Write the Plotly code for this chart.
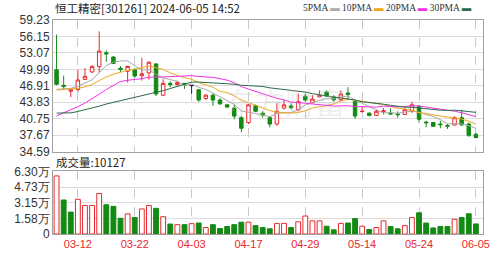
import plotly.graph_objects as go

dates = ["03-07","03-08","03-11","03-12","03-13","03-14","03-15","03-18","03-19","03-20",
         "03-21","03-22","03-25","03-26","03-27","03-28","03-29","04-01","04-02","04-03",
         "04-08","04-09","04-10","04-11","04-12","04-15","04-16","04-17","04-18","04-19",
         "04-22","04-23","04-24","04-25","04-26","04-29","04-30","05-06","05-07","05-08",
         "05-09","05-10","05-13","05-14","05-15","05-16","05-17","05-20","05-21","05-22",
         "05-23","05-24","05-27","05-28","05-29","05-30","05-31","06-03","06-04","06-05"]

open_ = [49.9,47.0,45.9,46.2,48.1,49.5,50.5,53.1,52.3,50.2,
         49.64,49.93,48.80,49.34,51.0,45.15,47.36,47.13,47.36,46.95,
         46.16,44.54,45.15,44.25,43.35,42.74,40.94,40.04,43.17,41.78,
         40.94,39.75,42.74,43.13,42.45,44.97,43.76,44.84,45.74,44.84,
         44.30,45.56,43.94,42.06,41.78,41.37,42.06,41.73,41.64,41.55,
         42.14,43.04,40.11,40.04,39.75,39.48,39.57,40.94,39.75,37.83]
high = [56.5,48.8,46.3,49.9,50.2,50.8,57.1,53.5,52.5,50.6,
        50.7,50.24,52.16,51.5,51.14,48.13,47.72,47.85,47.36,46.95,
        46.33,45.33,45.44,44.54,43.53,43.35,41.24,43.53,43.4,42.14,
        41.24,43.64,44.25,43.64,45.44,45.44,45.15,46.05,46.05,45.15,
        46.05,46.64,44.30,43.04,41.96,42.45,42.74,42.74,42.14,42.86,
        43.94,43.35,40.35,40.17,40.35,39.81,41.24,42.45,40.04,38.13]
low = [47.0,46.3,44.8,45.8,48.0,49.35,49.35,51.4,50.96,49.5,
       47.54,48.44,47.9,48.08,45.0,44.97,46.64,46.95,46.33,45.44,
       43.94,44.25,43.17,43.35,42.86,40.65,38.24,39.75,41.96,40.94,
       39.14,39.45,42.45,42.45,42.14,43.94,43.64,44.84,44.84,43.94,
       43.94,44.30,40.7,42.06,41.24,41.24,41.55,41.55,40.94,41.46,
       41.84,40.04,39.14,39.27,38.96,38.85,39.45,39.45,37.34,37.05]
close = [47.2,46.8,46.2,48.0,48.7,50.5,53.4,52.9,51.1,49.95,
         50.54,48.74,49.16,51.32,45.38,47.36,47.13,47.54,47.23,46.95,
         44.25,45.15,44.25,43.53,42.92,41.24,38.96,43.35,42.14,41.42,
         39.75,42.14,43.35,42.86,43.94,44.25,44.43,45.15,44.97,44.25,
         45.38,45.29,41.24,42.14,41.33,42.14,42.24,41.64,41.51,42.45,
         43.35,40.65,39.99,39.32,39.63,39.36,40.94,39.57,37.65,37.23]

ma5 = [46.24,46.40,46.44,46.84,47.38,48.04,49.36,50.70,51.32,51.57,
       51.58,50.65,49.90,49.94,49.03,48.39,48.07,47.75,46.93,47.24,
       46.62,46.22,45.57,44.83,44.02,43.42,42.18,42.00,41.72,41.42,
       41.12,41.76,41.76,41.90,42.41,43.31,43.77,44.13,44.55,44.61,
       44.84,45.01,44.23,43.66,43.08,42.43,41.82,41.90,41.77,42.00,
       42.24,41.92,41.59,41.15,40.59,39.79,39.85,39.76,39.43,38.95]
ma10 = [46.13,46.21,46.23,46.43,46.70,47.15,47.89,48.58,49.09,49.48,
        49.81,50.00,50.30,50.63,50.30,49.99,49.36,48.82,48.44,48.14,
        47.51,47.15,46.66,45.88,45.63,45.02,44.20,43.78,43.27,42.72,
        42.27,41.97,41.88,41.81,41.92,42.22,42.76,42.94,43.23,43.51,
        44.07,44.39,44.18,44.10,43.84,43.63,43.41,43.06,42.72,42.54,
        42.33,41.87,41.74,41.46,41.29,41.01,40.88,40.68,40.29,39.77]
ma20 = [41.27,41.84,42.38,43.01,43.68,44.43,45.33,46.21,46.99,47.72,
        47.95,48.09,48.25,48.52,48.49,48.56,48.62,48.70,48.76,48.81,
        48.66,48.58,48.48,48.25,47.97,47.50,46.78,46.30,45.85,45.43,
        44.89,44.56,44.27,43.85,43.77,43.62,43.48,43.36,43.25,43.12,
        43.17,43.18,43.03,42.96,42.88,42.92,43.09,43.00,42.97,43.02,
        43.20,43.13,42.96,42.78,42.57,42.32,42.15,41.87,41.50,41.15]
ma30 = [41.80,41.80,41.85,42.10,42.40,42.70,43.10,43.50,43.80,44.10,
        44.45,44.75,45.05,45.40,45.60,46.00,46.40,46.80,47.20,47.60,
        47.60,47.55,47.50,47.40,47.30,47.20,47.00,46.95,46.85,46.78,
        46.53,46.37,46.28,46.11,45.95,45.74,45.44,45.18,44.98,44.79,
        44.62,44.50,44.24,43.93,43.80,43.62,43.46,43.26,43.07,42.92,
        42.89,42.74,42.60,42.46,42.35,42.29,42.35,42.23,42.08,41.94]

volume_wan = [5.84,3.42,2.20,3.49,2.87,2.87,4.07,2.94,2.78,1.58,
              2.03,1.65,2.52,2.87,2.58,1.74,1.00,0.94,0.94,1.04,
              1.10,0.65,0.94,0.55,0.75,0.94,1.19,1.19,0.84,0.65,
              0.52,1.07,1.07,0.65,1.23,1.81,1.32,1.32,0.78,0.42,
              1.07,1.10,1.55,0.78,0.45,0.65,1.32,0.75,0.52,0.84,
              1.65,2.13,1.10,0.61,0.75,0.75,1.48,1.65,2.03,1.0127]
volume_up = [1,0,0,1,1,1,1,0,0,0, 1,0,1,1,0,1,0,1,0,1,
             0,1,0,0,0,0,0,1,0,0, 0,1,1,0,1,1,1,1,0,0,
             1,0,0,1,0,1,1,0,0,1, 1,0,0,0,0,0,1,0,0,0]

price_ticks = [34.59, 37.67, 40.75, 43.83, 46.91, 49.99, 53.07, 56.15, 59.23]
vol_ticks = [0, 1.575, 3.15, 4.725, 6.30]
vol_tick_text = ["0", "1.58万", "3.15万", "4.73万", "6.30万"]
date_ticks = ["03-12", "03-22", "04-03", "04-17", "04-29", "05-14", "05-24", "06-05"]

RED = "#e8282b"
GREEN = "#138a13"
GRID = "#dcdcdc"
BORDER = "#a0a0a0"

fig = go.Figure()

normal = [i for i in range(len(dates)) if open_[i] != close[i]]
doji = [i for i in range(len(dates)) if open_[i] == close[i]]

def pick(arr, idx):
    return [arr[i] for i in idx]

fig.add_trace(go.Candlestick(
    x=pick(dates, normal), open=pick(open_, normal), high=pick(high, normal),
    low=pick(low, normal), close=pick(close, normal),
    increasing=dict(line=dict(color=RED, width=1), fillcolor="white"),
    decreasing=dict(line=dict(color=GREEN, width=1), fillcolor=GREEN),
    whiskerwidth=0, showlegend=False, xaxis="x", yaxis="y"))
fig.add_trace(go.Candlestick(
    x=pick(dates, doji), open=pick(open_, doji), high=pick(high, doji),
    low=pick(low, doji), close=pick(close, doji),
    increasing=dict(line=dict(color="#222", width=1), fillcolor="#222"),
    decreasing=dict(line=dict(color="#222", width=1), fillcolor="#222"),
    whiskerwidth=0, showlegend=False, xaxis="x", yaxis="y"))

ma_specs = [(ma5, "#a8a8a8"), (ma10, "#f0a818"), (ma20, "#f030e8"), (ma30, "#2a6a48")]
for vals, col in ma_specs:
    fig.add_trace(go.Scatter(x=dates, y=vals, mode="lines",
                             line=dict(color=col, width=1), showlegend=False,
                             xaxis="x", yaxis="y"))

fig.add_trace(go.Bar(
    x=dates, y=volume_wan, width=0.68,
    marker=dict(color=["white" if u else GREEN for u in volume_up],
                line=dict(color=[RED if u else GREEN for u in volume_up], width=1)),
    showlegend=False, xaxis="x2", yaxis="y2"))

common_x = dict(type="category", categoryorder="array", categoryarray=dates,
                range=[-0.5, 60.0], tickmode="array", tickvals=date_ticks,
                showgrid=True, gridcolor="#c8c8c8", griddash="dash", gridwidth=1,
                showline=True, mirror=True, linecolor=BORDER, linewidth=1,
                ticks="", zeroline=False)

fig.update_layout(
    width=503, height=262,
    margin=dict(l=53, r=20, t=20, b=20),
    paper_bgcolor="white", plot_bgcolor="white",
    font=dict(family="Liberation Sans, Arial, sans-serif", size=12, color="#333"),
    xaxis=dict(**common_x, anchor="y", showticklabels=False,
               rangeslider=dict(visible=False)),
    xaxis2=dict(**common_x, anchor="y2", showticklabels=True, ticktext=date_ticks,
                tickfont=dict(color=RED, size=11)),
    yaxis=dict(domain=[0.385, 1.0], range=[34.589, 59.231], tickmode="array",
               tickvals=price_ticks, ticktext=[f"{v:.2f}" for v in price_ticks],
               showgrid=True, gridcolor=GRID, showline=True, mirror=True,
               linecolor=BORDER, ticks="", zeroline=False,
               tickfont=dict(size=12, color="#333")),
    yaxis2=dict(domain=[0.0, 0.2928], range=[0, 6.301], tickmode="array",
                tickvals=vol_ticks, ticktext=vol_tick_text,
                showgrid=True, gridcolor=GRID, showline=True, mirror=True,
                linecolor=BORDER, ticks="", zeroline=False,
                tickfont=dict(size=12, color="#333")),
    bargap=0.3,
    annotations=[
        dict(text="东方财富", xref="paper", yref="paper", x=0.54, y=0.735,
             showarrow=False, font=dict(family="Noto Sans CJK SC", size=30, color="rgba(190,190,190,0.25)")),
        dict(text="恒工精密[301261] 2024-06-05 14:52", xref="paper", yref="paper",
             x=0.0, y=1.056, xanchor="left", yanchor="middle", showarrow=False,
             font=dict(family="Noto Sans CJK SC", size=11.5, color="#222")),
        dict(text=("5PMA <span style='color:#a8a8a8'>▬</span> 10PMA <span style='color:#f0a818'>▬</span> "
                   "20PMA <span style='color:#f030e8'>▬</span> 30PMA <span style='color:#2a6a48'>▬</span>"),
             xref="paper", yref="paper", x=0.978, y=1.056, xanchor="right", yanchor="middle",
             showarrow=False, font=dict(family="Liberation Serif", size=9.5, color="#333")),
        dict(text="成交量:10127", xref="paper", yref="paper", x=0.002, y=0.338,
             xanchor="left", yanchor="middle", showarrow=False,
             font=dict(family="Noto Sans CJK SC", size=11.5, color="#222")),
    ],
)

fig.write_html("out.html")
